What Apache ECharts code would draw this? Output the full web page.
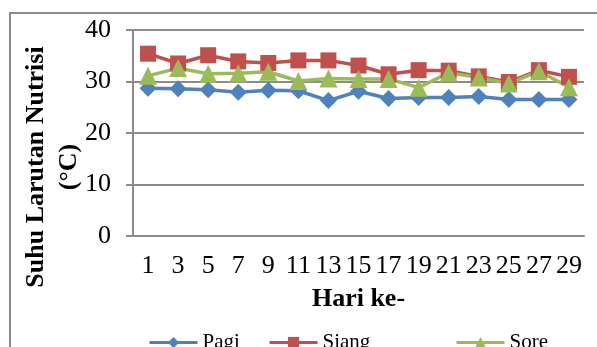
<!DOCTYPE html>
<html>
<head>
<meta charset="utf-8">
<script src="https://cdn.jsdelivr.net/npm/echarts@6/dist/echarts.min.js"></script>
<style>
  html, body { margin: 0; padding: 0; background: #fff; }
  #chart { width: 597px; height: 347px; }
</style>
</head>
<body>
<div id="chart"></div>
<script>
// Nutrient solution temperature (°C) by day, three readings per day
var days = ['1', '3', '5', '7', '9', '11', '13', '15', '17', '19', '21', '23', '25', '27', '29'];
var pagi  = [28.7, 28.6, 28.4, 27.9, 28.3, 28.2, 26.3, 28.1, 26.7, 26.9, 26.9, 27.1, 26.5, 26.5, 26.5];
var siang = [35.4, 33.5, 35.1, 33.9, 33.6, 34.1, 34.1, 33.1, 31.4, 32.2, 32.1, 31.0, 29.9, 32.2, 30.9];
var sore  = [31.1, 32.6, 31.5, 31.6, 31.9, 30.1, 30.6, 30.5, 30.5, 28.8, 31.7, 30.8, 29.6, 32.0, 28.9];
var yTicks = [0, 10, 20, 30, 40];

var serif = '"Liberation Serif", "Times New Roman", serif';
var gridGray = '#8c8c8c';

var chart = echarts.init(document.getElementById('chart'), null, { renderer: 'canvas' });

function lineSeries(name, data, color, symbol, size) {
  return {
    name: name,
    type: 'line',
    data: data,
    symbol: symbol,
    symbolSize: size,
    showSymbol: true,
    lineStyle: { color: color, width: 3.5 },
    itemStyle: { color: color },
    emphasis: { disabled: true },
    z: 3
  };
}

function legendAt(left, name) {
  return {
    left: left,
    top: 327,
    data: [name],
    itemWidth: 48,
    itemHeight: 14,
    itemGap: 4,
    lineStyle: { width: 3 },
    textStyle: { fontFamily: serif, fontSize: 21, color: '#000' },
    selectedMode: false
  };
}

chart.setOption({
  animation: false,
  backgroundColor: '#fff',
  grid: { left: 133, right: 13, top: 30, bottom: 111 },
  legend: [legendAt(143, 'Pagi'), legendAt(263, 'Siang'), legendAt(450, 'Sore')],
  xAxis: {
    type: 'category',
    data: days,
    boundaryGap: true,
    name: 'Hari ke-',
    nameLocation: 'middle',
    nameGap: 50,
    nameTextStyle: { fontFamily: serif, fontSize: 26, fontWeight: 'bold', color: '#000' },
    axisLine: { show: true, lineStyle: { color: gridGray, width: 2 } },
    axisTick: { show: false },
    axisLabel: { interval: 0, margin: 17, fontFamily: serif, fontSize: 26, color: '#000' },
    splitLine: { show: false }
  },
  yAxis: {
    type: 'value',
    min: yTicks[0],
    max: yTicks[yTicks.length - 1],
    interval: 10,
    axisLine: { show: true, lineStyle: { color: gridGray, width: 2 } },
    axisTick: { show: true, inside: false, length: 7, lineStyle: { color: gridGray, width: 2 } },
    axisLabel: { margin: 22, fontFamily: serif, fontSize: 26, color: '#000' },
    splitLine: { show: true, lineStyle: { color: gridGray, width: 2 } }
  },
  graphic: [
    {
      type: 'rect',
      shape: { x: 10, y: 13, width: 620, height: 400 },
      style: { fill: null, stroke: gridGray, lineWidth: 2 },
      silent: true,
      z: -1
    },
    {
      type: 'text',
      x: 53,
      y: 167,
      rotation: Math.PI / 2,
      style: {
        text: 'Suhu Larutan Nutrisi\n(°C)',
        fontFamily: serif,
        fontSize: 26,
        fontWeight: 'bold',
        lineHeight: 33,
        fill: '#000',
        align: 'center',
        verticalAlign: 'middle'
      },
      silent: true
    }
  ],
  series: [
    lineSeries('Pagi', pagi, '#4f81bd', 'diamond', 17),
    lineSeries('Siang', siang, '#c0504d', 'rect', 16),
    lineSeries('Sore', sore, '#9bbb59', 'triangle', 18)
  ]
});
</script>
</body>
</html>
